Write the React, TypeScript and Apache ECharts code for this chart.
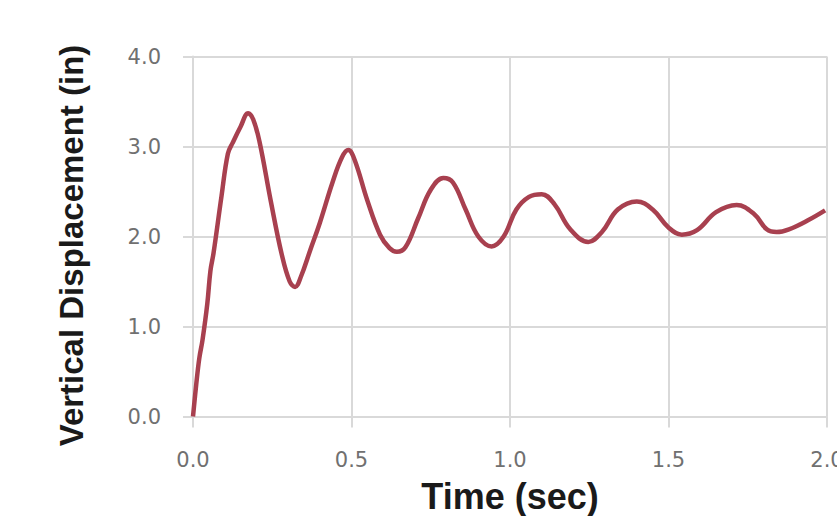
import React, { useEffect, useRef } from "react";
import * as echarts from "echarts";

const timeSec = [
  0, 0.01, 0.02, 0.03, 0.045, 0.055, 0.065, 0.09, 0.11, 0.125, 0.15, 0.174, 0.19, 0.21, 0.245, 0.28, 0.305, 0.322,
  0.34, 0.37, 0.4, 0.44, 0.47, 0.49, 0.51, 0.55, 0.59, 0.62, 0.643, 0.67, 0.71, 0.75, 0.79, 0.82, 0.86, 0.9,
  0.942, 0.98, 1.02, 1.06, 1.1, 1.14, 1.19, 1.247, 1.29, 1.34, 1.4, 1.45, 1.5, 1.542, 1.59, 1.65, 1.715, 1.77,
  1.81, 1.841, 1.88, 1.94, 1.994,
];
const displacementIn = [
  0, 0.35, 0.65, 0.85, 1.25, 1.62, 1.82, 2.45, 2.92, 3.04, 3.22, 3.37, 3.3, 3.05, 2.4, 1.8, 1.5, 1.44,
  1.55, 1.85, 2.15, 2.6, 2.88, 2.96, 2.85, 2.4, 2.02, 1.87, 1.83, 1.88, 2.2, 2.52, 2.65, 2.6, 2.3, 2.0,
  1.89, 2.0, 2.3, 2.44, 2.47, 2.36, 2.08, 1.94, 2.05, 2.3, 2.39, 2.3, 2.1, 2.02, 2.07, 2.27, 2.35, 2.25,
  2.08, 2.05, 2.08, 2.18, 2.29,
];
const xTicks = [0, 0.5, 1.0, 1.5, 2.0];
const yTicks = [0, 1, 2, 3, 4];

export default function App() {
  const ref = useRef<HTMLDivElement>(null);
  useEffect(() => {
    if (!ref.current) return;
    const chart = echarts.init(ref.current, undefined, { renderer: "svg" });
    const gridColor = "#d9d9d9";
    const labelFont = "'DejaVu Sans', sans-serif";
    const titleFont = "'Liberation Sans', Arial, sans-serif";
    chart.setOption({
      animation: false,
      backgroundColor: "#ffffff",
      grid: {
        left: 193,
        right: 10,
        top: 56.5,
        bottom: 99.5,
        containLabel: false,
        outerBoundsMode: "none",
      },
      xAxis: {
        type: "value",
        min: xTicks[0],
        max: xTicks[xTicks.length - 1],
        interval: 0.5,
        name: "Time (sec)",
        nameLocation: "middle",
        nameGap: 62,
        nameTextStyle: { fontFamily: titleFont, fontWeight: "bold", fontSize: 36, color: "#1a1a1a" },
        axisLine: { show: true, lineStyle: { color: gridColor, width: 2 } },
        axisTick: { show: true, length: 11, lineStyle: { color: gridColor, width: 2 } },
        splitLine: { show: true, showMinLine: true, showMaxLine: true, lineStyle: { color: gridColor, width: 2 } },
        axisLabel: {
          margin: 33,
          fontFamily: labelFont,
          fontSize: 21,
          color: "#707070",
          hideOverlap: false,
          formatter: (v: number) => v.toFixed(1),
        },
      },
      yAxis: {
        type: "value",
        min: yTicks[0],
        max: yTicks[yTicks.length - 1],
        interval: 1,
        name: "Vertical Displacement (in)",
        nameLocation: "middle",
        nameGap: 105,
        nameTextStyle: {
          fontFamily: titleFont,
          fontWeight: "bold",
          fontSize: 33,
          color: "#1a1a1a",
          padding: [0, 18, 0, 0],
        },
        axisLine: { show: true, lineStyle: { color: gridColor, width: 2 } },
        axisTick: { show: true, length: 10, lineStyle: { color: gridColor, width: 2 } },
        splitLine: { show: true, showMinLine: true, showMaxLine: true, lineStyle: { color: gridColor, width: 2 } },
        axisLabel: {
          margin: 32,
          fontFamily: labelFont,
          fontSize: 21,
          color: "#707070",
          formatter: (v: number) => v.toFixed(1),
        },
      },
      series: [
        {
          type: "line",
          data: timeSec.map((t, i) => [t, displacementIn[i]]),
          smooth: 0.4,
          showSymbol: false,
          lineStyle: { color: "#a8404f", width: 4.5 },
        },
      ],
    });
    return () => chart.dispose();
  }, []);
  return (
    <div
      ref={ref}
      style={{ position: "fixed", left: 0, top: 0, width: 837, height: 516, background: "#fff" }}
    />
  );
}
